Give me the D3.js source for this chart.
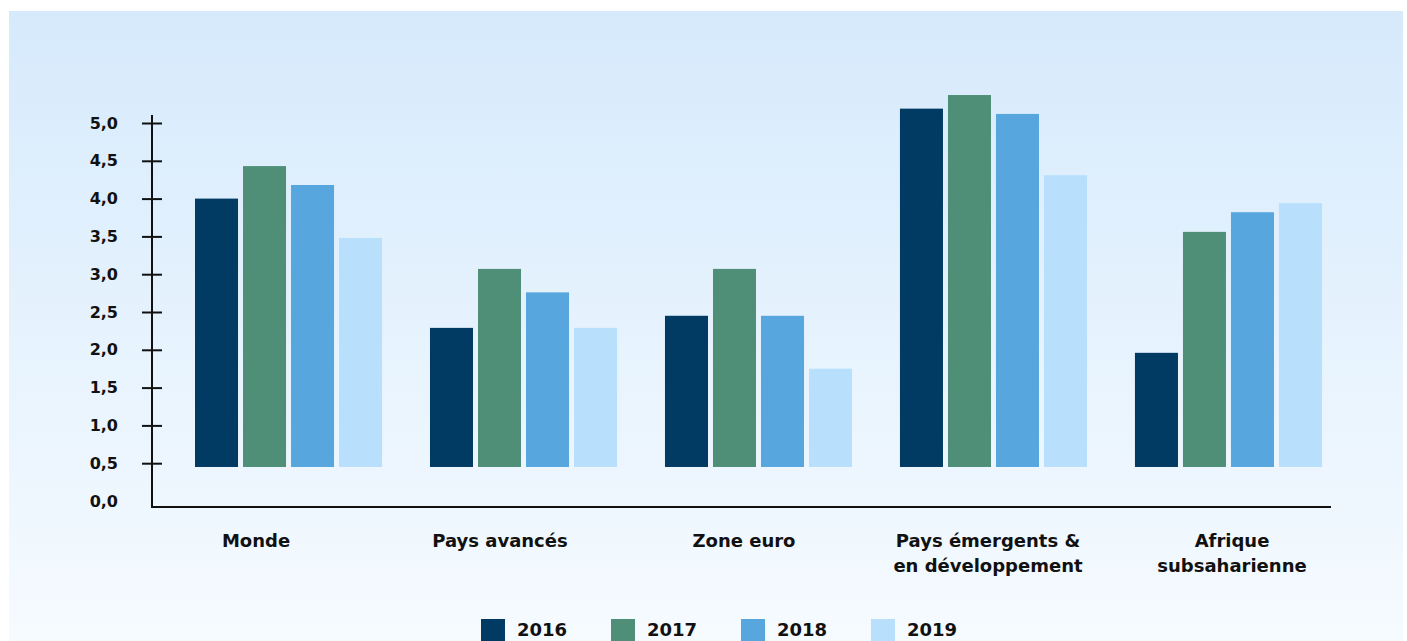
<!DOCTYPE html>
<html>
<head>
<meta charset="utf-8">
<script src="https://cdn.jsdelivr.net/npm/d3@7"></script>
<style>
  body { margin: 0; background: #ffffff; }
  svg { display: block; }
  text { font-family: "DejaVu Sans", sans-serif; font-weight: bold; fill: #111; }
</style>
</head>
<body>
<svg></svg>
<script>
// =============================================== DATA ========================================================
const categories = ["Monde", "Pays avancés", "Zone euro", "Pays émergents & en développement", "Afrique subsaharienne"];
const categoryLines = [["Monde"], ["Pays avancés"], ["Zone euro"], ["Pays émergents &", "en développement"], ["Afrique", "subsaharienne"]];
const years = ["2016", "2017", "2018", "2019"];
const values2016 = [4.0, 2.29, 2.45, 5.19, 1.96];
const values2017 = [4.43, 3.07, 3.07, 5.37, 3.56];
const values2018 = [4.18, 2.76, 2.45, 5.12, 3.82];
const values2019 = [3.48, 2.29, 1.75, 4.31, 3.94];
const yTicks = [0, 0.5, 1, 1.5, 2, 2.5, 3, 3.5, 4, 4.5, 5];
const colors = ["#013a63", "#4f8f77", "#57a7de", "#b8e0fd"];
// ============================================================================================================

function init() {
var width = 1407;
var height = 641;

var series = [values2016, values2017, values2018, values2019];
var rows = categories.map((c, i) => ({
    cat: c,
    vals: years.map((y, j) => ({ year: y, value: series[j][i] }))
}));

var svg = d3.select("svg").attr("width", width).attr("height", height);

// ================== BACKGROUND ==================
var grad = svg.append("defs").append("linearGradient")
    .attr("id", "bg").attr("x1", 0).attr("y1", 0).attr("x2", 0).attr("y2", 1);
grad.append("stop").attr("offset", "0%").attr("stop-color", "#d6eafc");
grad.append("stop").attr("offset", "100%").attr("stop-color", "#f6fbff");

svg.append("rect")
    .attr("x", 9).attr("y", 11)
    .attr("width", 1394).attr("height", 640)
    .attr("fill", "url(#bg)");

// ================== SCALES ==================
const ys = d3.scaleLinear().domain([0, 5]).range([501, 123]);
const xs = d3.scaleBand().domain(categories).range([195, 1322]).paddingInner(0.204).paddingOuter(0);
const xin = d3.scaleBand().domain(years).range([0, xs.bandwidth()]).paddingInner(0.104);
const xlab = d3.scalePoint().domain(categories).range([256, 1232]);
const color = d3.scaleOrdinal().domain(years).range(colors);
const barBase = 0.45;

// ================== BARS ==================
svg.append("g")
    .selectAll("g")
    .data(rows)
    .enter()
    .append("g")
    .attr("transform", d => "translate(" + xs(d.cat) + ",0)")
    .selectAll("rect")
    .data(d => d.vals)
    .enter()
    .append("rect")
    .attr("x", d => xin(d.year))
    .attr("y", d => ys(d.value))
    .attr("width", xin.bandwidth())
    .attr("height", d => ys(barBase) - ys(d.value))
    .attr("fill", d => color(d.year));

// ================== AXES ==================
var axisX = 152;
var axisY = 507;

var yAxis = svg.append("g")
    .attr("transform", "translate(" + axisX + ",0)")
    .call(d3.axisLeft(ys).tickValues(yTicks).tickSize(0).tickPadding(34)
        .tickFormat(d => d3.format(".1f")(d).replace(".", ",")));
yAxis.select(".domain").remove();
yAxis.selectAll(".tick text").attr("font-size", 16).attr("font-family", "DejaVu Sans").attr("fill", "#111");
yAxis.selectAll(".tick")
    .filter(d => d > 0)
    .append("line")
    .attr("x1", -10).attr("x2", 10)
    .attr("stroke", "#111").attr("stroke-width", 2);

svg.append("line")
    .attr("x1", axisX).attr("x2", axisX)
    .attr("y1", 115).attr("y2", axisY + 1)
    .attr("stroke", "#111").attr("stroke-width", 2);

svg.append("line")
    .attr("x1", axisX).attr("x2", 1331)
    .attr("y1", axisY).attr("y2", axisY)
    .attr("stroke", "#111").attr("stroke-width", 2);

// category labels
svg.append("g")
    .selectAll("text")
    .data(categories)
    .enter()
    .append("text")
    .attr("text-anchor", "middle")
    .attr("font-size", 18)
    .attr("y", 547)
    .each(function(d, i) {
        d3.select(this).selectAll("tspan")
            .data(categoryLines[i])
            .enter()
            .append("tspan")
            .attr("x", xlab(d))
            .attr("dy", (t, k) => k === 0 ? 0 : 25)
            .text(t => t);
    });

// ================== LEGEND ==================
var legend = svg.append("g")
    .selectAll("g")
    .data(years)
    .enter()
    .append("g")
    .attr("transform", (d, i) => "translate(" + (481 + i * 130) + ",619)");

legend.append("rect")
    .attr("width", 24).attr("height", 24)
    .attr("fill", d => color(d));

legend.append("text")
    .attr("x", 36).attr("y", 17)
    .attr("font-size", 18)
    .text(d => d);
}

init();
</script>
</body>
</html>
